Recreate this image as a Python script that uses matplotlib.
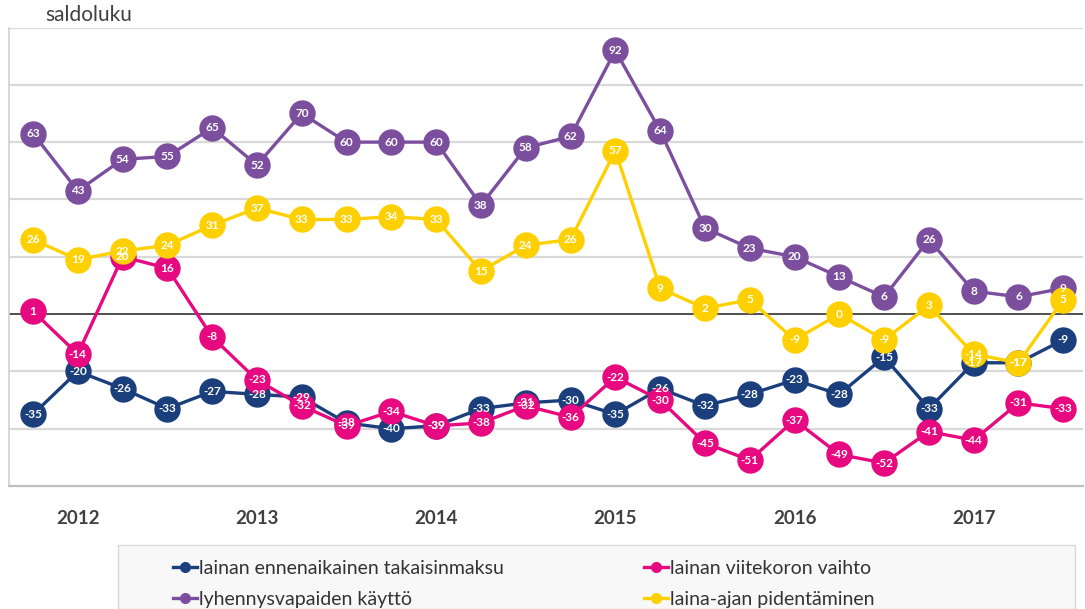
import matplotlib
matplotlib.use("Agg")
import matplotlib.pyplot as plt
from matplotlib.patches import Rectangle
from matplotlib.lines import Line2D
import numpy as np

plt.rcParams['font.family'] = ['Lato', 'DejaVu Sans']

# quarterly balance figures 2012 Q1 - 2017 Q4 (24 quarters)
years = ['2012', '2013', '2014', '2015', '2016', '2017']

ennenaikainen = [-35, -20, -26, -33, -27, -28, -29, -38, -40, -39, -33, -31,
                 -30, -35, -26, -32, -28, -23, -28, -15, -33, -17, -17, -9]
viitekorko = [1, -14, 20, 16, -8, -23, -32, -39, -34, -39, -38, -32,
              -36, -22, -30, -45, -51, -37, -49, -52, -41, -44, -31, -33]
lyhennysvapaat = [63, 43, 54, 55, 65, 52, 70, 60, 60, 60, 38, 58,
                  62, 92, 64, 30, 23, 20, 13, 6, 26, 8, 6, 9]
laina_aika = [26, 19, 22, 24, 31, 37, 33, 33, 34, 33, 15, 24,
              26, 57, 9, 2, 5, -9, 0, -9, 3, -14, -17, 5]

series = [
    ('lainan ennenaikainen takaisinmaksu', ennenaikainen, '#1b3f7c'),
    ('lyhennysvapaiden käyttö', lyhennysvapaat, '#7b4f9e'),
    ('lainan viitekoron vaihto', viitekorko, '#e6097f'),
    ('laina-ajan pidentäminen', laina_aika, '#ffd000'),
]
draw_order = [0, 2, 1, 3]

fig = plt.figure(figsize=(10.85, 6.09), dpi=100)
ax = fig.add_axes([9 / 1085, 1 - 486 / 609, (1083 - 9) / 1085, (486 - 27.5) / 609])

x = np.arange(len(lyhennysvapaat))
ax.set_xlim(-0.536, 23.44)
ax.set_ylim(-60, 100)

for y in range(-40, 101, 20):
    if y == 0:
        ax.axhline(y, color='#505050', lw=1.4, zorder=1)
    else:
        ax.axhline(y, color='#d9d9d9', lw=1.6, zorder=1)

for k, idx in enumerate(draw_order):
    name, vals, col = series[idx]
    ax.plot(x, vals, color=col, lw=2.4, marker='o', markersize=19,
            markeredgewidth=0, zorder=3 + k, label=name)

for idx in draw_order:
    name, vals, col = series[idx]
    for i, v in enumerate(vals):
        ax.text(i, v, str(v), color='white', fontsize=8.5, fontweight='bold',
                ha='center', va='center', zorder=10)

ax.set_yticks([])
ax.set_xticks(x[1::4])
ax.set_xticklabels(years, fontsize=13.5, fontweight='bold', color='#404040')
ax.tick_params(axis='x', length=0, pad=17)
for s in ['top', 'right']:
    ax.spines[s].set_visible(False)
ax.spines['left'].set_color('#d0d0d0')
ax.spines['left'].set_linewidth(1.2)
ax.spines['bottom'].set_color('#bfbfbf')
ax.spines['bottom'].set_linewidth(1.6)

fig.text(45 / 1085, 1 - 15 / 609, 'saldoluku', fontsize=15, color='#404040',
         ha='left', va='center')

# legend box
fig.patches.append(Rectangle((118 / 1085, 0), (1075 - 118) / 1085, 1 - 545 / 609,
                             transform=fig.transFigure, facecolor='#f8f8f8',
                             edgecolor='#d9d9d9', lw=1, zorder=0))
leg_handles = [Line2D([], [], color=series[i][2], lw=2.4, marker='o', markersize=7)
               for i in range(4)]
fig.legend(leg_handles, [s[0] for s in series], ncol=2, loc='upper left',
           bbox_to_anchor=(155 / 1085, 1 - 542 / 609), frameon=False,
           fontsize=14, handlelength=1.25, handletextpad=0.1,
           columnspacing=7.2, labelspacing=0.72, labelcolor='#333333')

fig.savefig('out.png', dpi=100)
